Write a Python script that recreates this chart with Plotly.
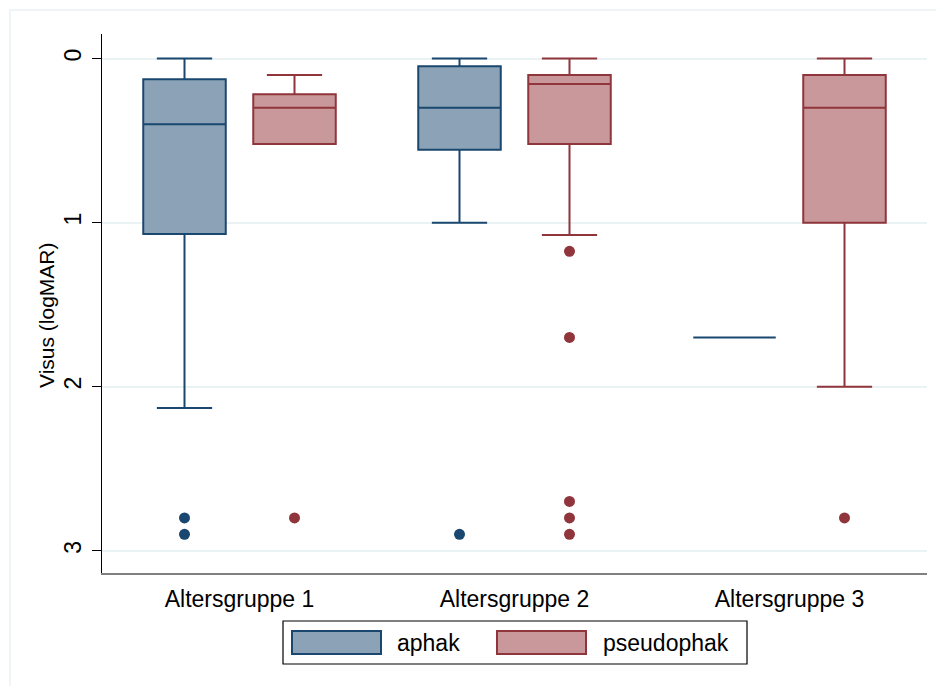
import plotly.graph_objects as go

categories = ["Altersgruppe 1", "Altersgruppe 2", "Altersgruppe 3"]
series_names = ["aphak", "pseudophak"]

aphak_lowerfence = [0.0, 0.0, 1.7]
aphak_q1 = [0.126, 0.046, 1.7]
aphak_median = [0.40, 0.30, 1.7]
aphak_q3 = [1.07, 0.555, 1.7]
aphak_upperfence = [2.13, 1.0, 1.7]
aphak_outliers = [[2.8, 2.9], [2.9], []]

pseudo_lowerfence = [0.1, 0.0, 0.0]
pseudo_q1 = [0.217, 0.1, 0.1]
pseudo_median = [0.30, 0.155, 0.30]
pseudo_q3 = [0.52, 0.52, 1.0]
pseudo_upperfence = [0.52, 1.075, 2.0]
pseudo_outliers = [[2.8], [1.175, 1.7, 2.7, 2.8, 2.9], [2.8]]

y_ticks = [0, 1, 2, 3]
y_title = "Visus (logMAR)"

FONT = "Arial, Liberation Sans, sans-serif"
line_cols = ["#1a476f", "#90353b"]
fill_cols = ["#8ca3b7", "#c8989a"]
offsets = [-0.2, 0.2]
box_w = 0.3

stats = [
    (aphak_lowerfence, aphak_q1, aphak_median, aphak_q3, aphak_upperfence, aphak_outliers),
    (pseudo_lowerfence, pseudo_q1, pseudo_median, pseudo_q3, pseudo_upperfence, pseudo_outliers),
]

fig = go.Figure()
for s, (lf, q1, med, q3, uf, outs) in enumerate(stats):
    xpos = [i + 1 + offsets[s] for i in range(len(categories))]
    fig.add_trace(go.Box(
        x=xpos, lowerfence=lf, q1=q1, median=med, q3=q3, upperfence=uf,
        width=box_w, whiskerwidth=0.67,
        fillcolor=fill_cols[s], line=dict(color=line_cols[s], width=2),
        name=series_names[s], showlegend=False,
    ))
    ox, oy = [], []
    for i, vals in enumerate(outs):
        for v in vals:
            ox.append(xpos[i])
            oy.append(v)
    fig.add_trace(go.Scatter(
        x=ox, y=oy, mode="markers",
        marker=dict(color=line_cols[s], size=11, line=dict(width=0)),
        name=series_names[s] + " outliers", showlegend=False,
    ))

# plot area: x 102..927, y 34..573
L, R, T, B = 102, 927, 34, 573
W, H = 936, 686
def px(x):
    return (x - L) / (R - L)
def py(y):
    return (B - y) / (B - T)

shapes = []
# outer graph region frame
shapes.append(dict(type="rect", xref="paper", yref="paper",
                   x0=px(10), x1=px(945), y0=py(695), y1=py(10),
                   line=dict(color="#eaf2f3", width=1.5), fillcolor="rgba(0,0,0,0)", layer="below"))
# legend frame
shapes.append(dict(type="rect", xref="paper", yref="paper",
                   x0=px(283), x1=px(747), y0=py(664), y1=py(621),
                   line=dict(color="#000000", width=1.2), fillcolor="white"))
legend_rects = [(292, 381), (497, 586)]
legend_text_x = [395, 601]
annotations = []
for s in range(2):
    x0, x1 = legend_rects[s]
    shapes.append(dict(type="rect", xref="paper", yref="paper",
                       x0=px(x0), x1=px(x1), y0=py(654), y1=py(631),
                       line=dict(color=line_cols[s], width=2), fillcolor=fill_cols[s]))
    annotations.append(dict(xref="paper", yref="paper", x=px(legend_text_x[s]), y=py(643),
                            text=series_names[s], showarrow=False, xanchor="left", yanchor="middle",
                            font=dict(family=FONT, size=23, color="black")))
annotations.append(dict(xref="paper", yref="paper", x=px(46), y=py(315),
                        text=y_title, showarrow=False, textangle=-90,
                        xanchor="center", yanchor="middle",
                        font=dict(family=FONT, size=21, color="black")))

fig.update_layout(
    width=W, height=H,
    margin=dict(l=L, r=W - R, t=T, b=H - B, pad=0),
    paper_bgcolor="white", plot_bgcolor="white",
    shapes=shapes, annotations=annotations,
    font=dict(family=FONT, size=23, color="black"),
    showlegend=False,
)
fig.update_xaxes(
    range=[0.5, 3.5], tickvals=[1, 2, 3], ticktext=categories,
    showline=True, linecolor="#808080", linewidth=2, ticks="",
    showgrid=False, zeroline=False, tickfont=dict(size=23), ticklabelstandoff=4,
)
fig.update_yaxes(
    range=[3.136, -0.15], tickvals=y_ticks, ticktext=[str(t) for t in y_ticks],
    tickangle=-90, ticks="outside", ticklen=9, tickcolor="black", tickwidth=1,
    showline=True, linecolor="black", linewidth=1,
    showgrid=True, gridcolor="#eaf2f3", gridwidth=1.5, zeroline=False,
    tickfont=dict(size=23), ticklabelstandoff=2,
)

fig.write_html("out.html")
